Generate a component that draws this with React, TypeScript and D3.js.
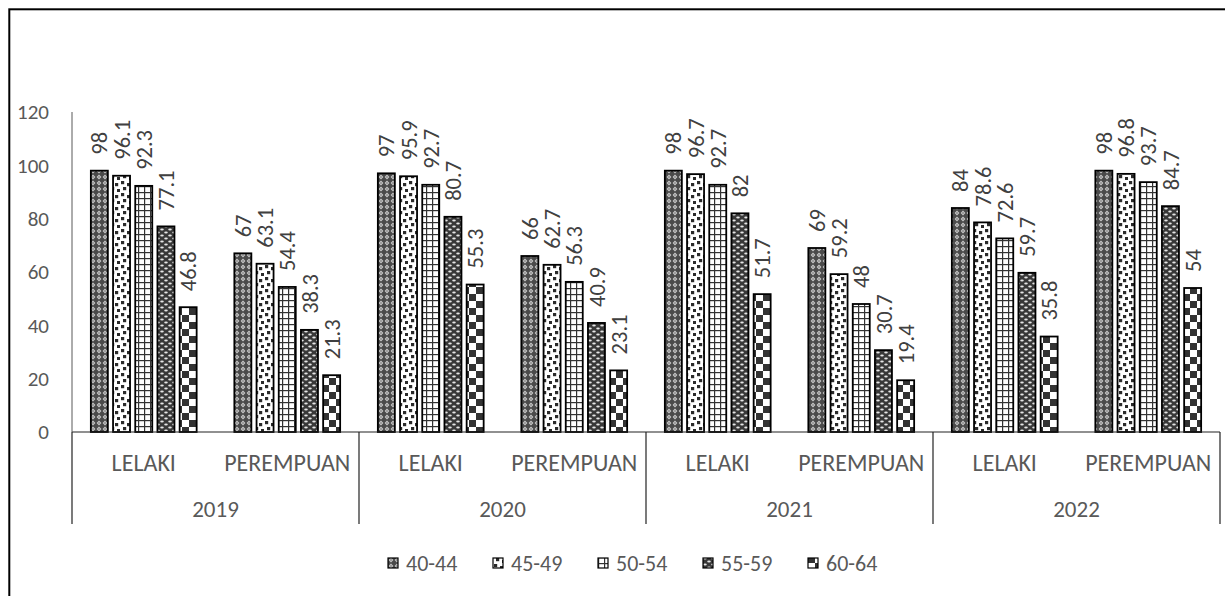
import React, { useEffect, useRef } from 'react';
import * as d3 from 'd3';

const years = ['2019', '2020', '2021', '2022'];
const genders = ['LELAKI', 'PEREMPUAN'];
const ageGroups = ['40-44', '45-49', '50-54', '55-59', '60-64'];

// one value per (year, gender) slot, in order 2019 L, 2019 P, 2020 L, ...
const age40_44 = [98, 67, 97, 66, 98, 69, 84, 98];
const age45_49 = [96.1, 63.1, 95.9, 62.7, 96.7, 59.2, 78.6, 96.8];
const age50_54 = [92.3, 54.4, 92.7, 56.3, 92.7, 48, 72.6, 93.7];
const age55_59 = [77.1, 38.3, 80.7, 40.9, 82, 30.7, 59.7, 84.7];
const age60_64 = [46.8, 21.3, 55.3, 23.1, 51.7, 19.4, 35.8, 54];

const seriesValues = [age40_44, age45_49, age50_54, age55_59, age60_64];
const yTicks = [0, 20, 40, 60, 80, 100, 120];

const FONT = 'Carlito, Calibri, Lato, sans-serif';

const App: React.FC = () => {
  const svgRef = useRef<SVGSVGElement>(null);

  useEffect(() => {
    if (!svgRef.current) return;
    const width = 1225;
    const height = 596;
    const svg = d3.select(svgRef.current).attr('width', width).attr('height', height);
    svg.selectAll('*').remove();

    // chart frame
    svg
      .append('rect')
      .attr('x', 9.3)
      .attr('y', 9.3)
      .attr('width', 1240)
      .attr('height', 620)
      .attr('fill', '#fff')
      .attr('stroke', '#000')
      .attr('stroke-width', 2);

    // patterns
    const defs = svg.append('defs');

    const p1 = defs
      .append('pattern')
      .attr('id', 'pat0')
      .attr('patternUnits', 'userSpaceOnUse')
      .attr('width', 6)
      .attr('height', 6);
    p1.append('rect').attr('width', 6).attr('height', 6).attr('fill', '#4a4a4a');
    p1.append('path').attr('d', 'M3,0.6 L5.4,3 L3,5.4 L0.6,3 Z').attr('fill', '#c9c9c9');
    p1.append('rect').attr('x', 2.4).attr('y', 2.4).attr('width', 1.2).attr('height', 1.2).attr('fill', '#555');

    const p2 = defs
      .append('pattern')
      .attr('id', 'pat1')
      .attr('patternUnits', 'userSpaceOnUse')
      .attr('width', 12)
      .attr('height', 12);
    p2.append('rect').attr('width', 12).attr('height', 12).attr('fill', '#fff');
    [
      [1, 1],
      [7, 3],
      [3, 7],
      [9, 9],
    ].forEach(([x, y]) =>
      p2.append('rect').attr('x', x).attr('y', y).attr('width', 3.2).attr('height', 3.2).attr('fill', '#2a2a2a'),
    );

    const p3 = defs
      .append('pattern')
      .attr('id', 'pat2')
      .attr('patternUnits', 'userSpaceOnUse')
      .attr('width', 6)
      .attr('height', 6);
    p3.append('rect').attr('width', 6).attr('height', 6).attr('fill', '#fff');
    p3.append('rect').attr('x', 0).attr('y', 0).attr('width', 6).attr('height', 1.2).attr('fill', '#333');
    p3.append('rect').attr('x', 0).attr('y', 0).attr('width', 1.2).attr('height', 6).attr('fill', '#333');

    const p4 = defs
      .append('pattern')
      .attr('id', 'pat3')
      .attr('patternUnits', 'userSpaceOnUse')
      .attr('width', 8)
      .attr('height', 6);
    p4.append('rect').attr('width', 8).attr('height', 6).attr('fill', '#383838');
    p4.append('ellipse').attr('cx', 2).attr('cy', 1.5).attr('rx', 1.8).attr('ry', 0.9).attr('fill', '#e6e6e6');
    p4.append('ellipse').attr('cx', 6).attr('cy', 4.5).attr('rx', 1.8).attr('ry', 0.9).attr('fill', '#e6e6e6');

    const p5 = defs
      .append('pattern')
      .attr('id', 'pat4')
      .attr('patternUnits', 'userSpaceOnUse')
      .attr('width', 14)
      .attr('height', 14);
    p5.append('rect').attr('width', 14).attr('height', 14).attr('fill', '#fff');
    p5.append('rect').attr('x', 7).attr('y', 0).attr('width', 7).attr('height', 7).attr('fill', '#333');
    p5.append('rect').attr('x', 0).attr('y', 7).attr('width', 7).attr('height', 7).attr('fill', '#333');

    // scales
    const slots = years.flatMap((y) => genders.map((g) => `${y}|${g}`));
    const x0 = d3.scaleBand().domain(slots).range([72, 1220]).padding(0);
    const groupSpan = 111;
    const x1 = d3
      .scaleBand()
      .domain(ageGroups)
      .range([(x0.bandwidth() - groupSpan) / 2, (x0.bandwidth() + groupSpan) / 2])
      .padding(0);
    const barW = 17;
    const y = d3.scaleLinear().domain([0, 120]).range([432, 112]);

    // y tick labels
    svg
      .append('g')
      .selectAll('text')
      .data(yTicks)
      .enter()
      .append('text')
      .attr('x', 49)
      .attr('y', (d) => y(d))
      .attr('dy', '0.35em')
      .attr('text-anchor', 'end')
      .attr('fill', '#595959')
      .style('font-family', FONT)
      .style('font-size', '21px')
      .text((d) => d);

    // bars
    ageGroups.forEach((age, si) => {
      const g = svg.append('g');
      g.selectAll('rect')
        .data(seriesValues[si])
        .enter()
        .append('rect')
        .attr('x', (_, i) => (x0(slots[i]) ?? 0) + (x1(age) ?? 0) + (x1.bandwidth() - barW) / 2)
        .attr('y', (d) => y(d))
        .attr('width', barW)
        .attr('height', (d) => y(0) - y(d))
        .attr('fill', `url(#pat${si})`)
        .attr('stroke', '#000')
        .attr('stroke-width', 1.8);

      // value labels, rotated
      g.selectAll('text')
        .data(seriesValues[si])
        .enter()
        .append('text')
        .attr('transform', (d, i) => {
          const cx = (x0(slots[i]) ?? 0) + (x1(age) ?? 0) + x1.bandwidth() / 2;
          return `translate(${cx},${y(d) - 16}) rotate(-90)`;
        })
        .attr('dy', '0.36em')
        .attr('text-anchor', 'start')
        .attr('fill', '#404040')
        .style('font-family', FONT)
        .style('font-size', '22.5px')
        .text((d) => d);
    });

    // axes lines
    svg
      .append('line')
      .attr('x1', 72)
      .attr('x2', 1220)
      .attr('y1', y(0))
      .attr('y2', y(0))
      .attr('stroke', '#222')
      .attr('stroke-width', 1.2);
    svg
      .append('line')
      .attr('x1', 72)
      .attr('x2', 72)
      .attr('y1', y(120))
      .attr('y2', y(0))
      .attr('stroke', '#595959')
      .attr('stroke-width', 1);

    // year separators
    const yearEdges = years.map((yr) => x0(`${yr}|LELAKI`) ?? 0).concat([1220]);
    svg
      .append('g')
      .selectAll('line')
      .data(yearEdges)
      .enter()
      .append('line')
      .attr('x1', (d) => d)
      .attr('x2', (d) => d)
      .attr('y1', y(0))
      .attr('y2', 524)
      .attr('stroke', '#222')
      .attr('stroke-width', 1.2);

    // gender labels
    svg
      .append('g')
      .selectAll('text')
      .data(slots)
      .enter()
      .append('text')
      .attr('x', (d) => (x0(d) ?? 0) + x0.bandwidth() / 2)
      .attr('y', 463)
      .attr('dy', '0.35em')
      .attr('text-anchor', 'middle')
      .attr('fill', '#595959')
      .style('font-family', FONT)
      .style('font-size', '24px')
      .text((d) => d.split('|')[1]);

    // year labels
    svg
      .append('g')
      .selectAll('text')
      .data(years)
      .enter()
      .append('text')
      .attr('x', (d) => (x0(`${d}|LELAKI`) ?? 0) + x0.bandwidth())
      .attr('y', 509)
      .attr('dy', '0.35em')
      .attr('text-anchor', 'middle')
      .attr('fill', '#595959')
      .style('font-family', FONT)
      .style('font-size', '23px')
      .text((d) => d);

    // legend
    const legend = svg.append('g').attr('transform', 'translate(388, 563)');
    ageGroups.forEach((age, i) => {
      const item = legend.append('g').attr('transform', `translate(${i * 105}, 0)`);
      item
        .append('rect')
        .attr('x', 0)
        .attr('y', -5)
        .attr('width', 10)
        .attr('height', 10)
        .attr('fill', `url(#pat${i})`)
        .attr('stroke', '#000')
        .attr('stroke-width', 1.2);
      item
        .append('text')
        .attr('x', 18)
        .attr('y', 0)
        .attr('dy', '0.35em')
        .attr('fill', '#595959')
        .style('font-family', FONT)
        .style('font-size', '22px')
        .text(age);
    });
  }, []);

  return (
    <svg
      ref={svgRef}
      style={{ position: 'absolute', left: 0, top: 0, display: 'block', background: '#fff' }}
    ></svg>
  );
};

export default App;
